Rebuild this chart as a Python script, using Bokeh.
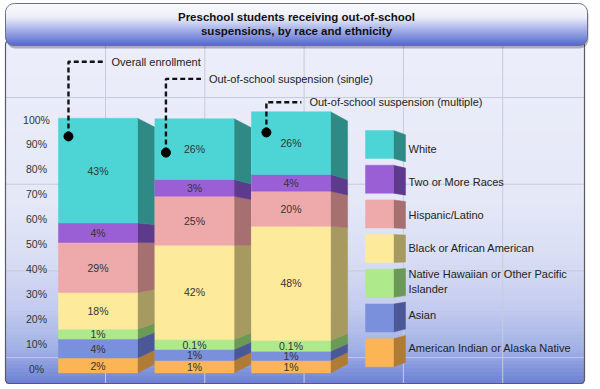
import math
from bokeh.plotting import figure
from bokeh.models import Range1d
from bokeh.core.properties import value
from bokeh.embed import file_html
from bokeh.resources import INLINE

# ---------------- data ----------------
groups = ["Overall enrollment",
          "Out-of-school suspension (single)",
          "Out-of-school suspension (multiple)"]
# stacking order, bottom to top
races = ["American Indian or Alaska Native", "Asian",
         "Native Hawaiian or Other Pacific Islander",
         "Black or African American", "Hispanic/Latino",
         "Two or More Races", "White"]
american_indian = [2, 1, 1]
asian = [4, 1, 1]
native_hawaiian = [1, 0.1, 0.1]
black = [18, 42, 48]
hispanic = [29, 25, 20]
two_or_more = [4, 3, 4]
white = [43, 26, 26]

# segment heights as drawn in the infographic (axis % units; not to scale)
drawn_american_indian = [6.0, 5.0, 5.0]
drawn_asian = [7.6, 4.4, 3.7]
drawn_native_hawaiian = [4.0, 4.0, 4.3]
drawn_black = [14.7, 37.9, 45.9]
drawn_hispanic = [20.1, 19.7, 14.1]
drawn_two_or_more = [7.8, 6.7, 6.7]
drawn_white = [42.1, 24.4, 25.2]

y_ticks = [0, 10, 20, 30, 40, 50, 60, 70, 80, 90, 100]
y_tick_labels = ["0%", "10%", "20%", "30%", "40%", "50%", "60%", "70%", "80%", "90%", "100%"]

title_lines = ["Preschool students receiving out-of-school",
               "suspensions, by race and ethnicity"]

shown = [american_indian, asian, native_hawaiian, black, hispanic, two_or_more, white]
drawn = [drawn_american_indian, drawn_asian, drawn_native_hawaiian, drawn_black,
         drawn_hispanic, drawn_two_or_more, drawn_white]

# ---------------- styles ----------------
front_colors = ["#fbb555", "#7a90dc", "#aee98c", "#fdeb9b", "#eeaaaa", "#9a5fd4", "#4dd5d5"]
side_colors = ["#b07c35", "#4a5898", "#6b9956", "#a69a60", "#a5706f", "#5e3a8c", "#2f8a86"]
FONT = value("Liberation Sans")

W, H = 600, 389
MARGIN = 0
PX_PER_X = 96.5
X0_PX = 97.5
PX_PER_PCT = 2.49
Y0_PX = 368.0


def X(px):
    return (px - X0_PX) / PX_PER_X


def Y(py):
    return (Y0_PX - py) / PX_PER_PCT


def interp(stops, y):
    if y <= stops[0][0]:
        c = stops[0][1]
    elif y >= stops[-1][0]:
        c = stops[-1][1]
    else:
        for (ya, ca), (yb, cb) in zip(stops[:-1], stops[1:]):
            if ya <= y <= yb:
                t = (y - ya) / (yb - ya)
                c = tuple(ca[k] + (cb[k] - ca[k]) * t for k in range(3))
                break
    return "#%02x%02x%02x" % tuple(int(round(v)) for v in c)


p = figure(width=W, height=H,
           x_range=Range1d(X(MARGIN), X(MARGIN + W)),
           y_range=Range1d(Y(MARGIN + H), Y(MARGIN)),
           x_axis_type=None, y_axis_type=None,
           output_backend="svg", toolbar_location=None,
           min_border=0, outline_line_color=None,
           background_fill_color="white", border_fill_color="white")
p.grid.visible = False


def rounded_path(x0, x1, y0, y1, r, n=8):
    pts = []
    corners = [(x1 - r, y0 + r, -90, 0), (x1 - r, y1 - r, 0, 90),
               (x0 + r, y1 - r, 90, 180), (x0 + r, y0 + r, 180, 270)]
    for cx, cy, a0, a1 in corners:
        for i in range(n + 1):
            a = math.radians(a0 + (a1 - a0) * i / n)
            pts.append((cx + r * math.cos(a), cy + r * math.sin(a)))
    return [X(a) for a, _ in pts], [Y(b) for _, b in pts]


def gradient(x0, x1, y0, y1, stops, n, r=0):
    L, R, T, B, C = [], [], [], [], []
    h = (y1 - y0) / n
    for i in range(n):
        top = y0 + i * h
        bot = min(top + h + 0.7, y1)
        mid = top + h / 2
        inset = 0
        if r > 0:
            d = None
            if mid < y0 + r:
                d = y0 + r - mid
            elif mid > y1 - r:
                d = mid - (y1 - r)
            if d is not None:
                inset = r - math.sqrt(max(r * r - d * d, 0))
        L.append(X(x0 + inset)); R.append(X(x1 - inset))
        T.append(Y(top)); B.append(Y(bot))
        C.append(interp(stops, mid))
    p.quad(left=L, right=R, top=T, bottom=B, fill_color=C, line_color=None)


# ---- panel background ----
panel = (5, 584, 40, 383)
gradient(*panel, stops=[(40, (236, 238, 250)), (200, (229, 232, 247)),
                        (260, (216, 221, 244)), (310, (194, 202, 238)),
                        (350, (160, 176, 229)), (383, (108, 128, 212))], n=90, r=4)
# grid lines
gx = [105 + k * 99.3 for k in range(5)]
gy = [97 + k * 86.7 for k in range(4)]
p.segment(x0=[X(v) for v in gx], y0=[Y(panel[2])] * len(gx),
          x1=[X(v) for v in gx], y1=[Y(panel[3])] * len(gx),
          line_color="#c9cadb", line_width=1)
p.segment(x0=[X(panel[0])] * len(gy), y0=[Y(v) for v in gy],
          x1=[X(panel[1])] * len(gy), y1=[Y(v) for v in gy],
          line_color="#c9cadb", line_width=1)
xs, ys = rounded_path(*panel, r=4)
p.patch(xs, ys, fill_color=None, line_color="#5a5a66", line_width=1.2)

# ---- title banner ----
banner = (5, 587, 3, 45)
xs, ys = rounded_path(banner[0] + 1, banner[1] + 1, banner[2] + 3, banner[3] + 3, r=9)
p.patch(xs, ys, fill_color="#30304a", fill_alpha=0.35, line_color=None)
gradient(*banner, stops=[(3, (250, 250, 253)), (17, (236, 238, 249)),
                         (28, (172, 182, 233)), (45, (84, 104, 206))], n=42, r=9)
xs, ys = rounded_path(*banner, r=9)
p.patch(xs, ys, fill_color=None, line_color="#6c6f86", line_width=1)
p.text(x=[X(296)] * 2, y=[Y(16), Y(30.5)], text=title_lines,
       text_font=FONT, text_font_style="bold", text_font_size="11.5px",
       text_color="#111111", text_align="center", text_baseline="middle")

# ---- y tick labels ----
p.text(x=[X(36)] * len(y_ticks), y=y_ticks, text=y_tick_labels,
       text_font=FONT, text_font_size="10.5px", text_color="#333333",
       text_align="center", text_baseline="middle")

# ---- 3D stacked bars ----
BAR_HALF = 0.41
DX = 17 / PX_PER_X
BASE = -1.8
K = 0.93


def persp(y, c=50.0, k=K):
    return c + (y - c) * k


fl, fr, ft, fb, fc = [], [], [], [], []
sxs, sys_, sc = [], [], []
lx, ly, lt = [], [], []
tops = []
for b in range(len(groups)):
    cum = BASE
    for s in range(len(races)):
        bot = cum
        top = cum + drawn[s][b]
        cum = top
        fl.append(b - BAR_HALF); fr.append(b + BAR_HALF)
        fb.append(bot); ft.append(top); fc.append(front_colors[s])
        xr = b + BAR_HALF
        sxs.append([xr, xr + DX, xr + DX, xr])
        sys_.append([bot, persp(bot), persp(top), top])
        sc.append(side_colors[s])
        lx.append(b); ly.append((bot + top) / 2)
        lt.append(f"{shown[s][b]:g}%")
    tops.append(cum)

p.patches(sxs, sys_, fill_color=sc, line_color=sc, line_width=0.5)
p.quad(left=fl, right=fr, top=ft, bottom=fb, fill_color=fc, line_color=fc, line_width=0.5)
p.text(x=lx, y=ly, text=lt, text_font=FONT, text_font_size="10.5px",
       text_color="#333333", text_align="center", text_baseline="middle")

# ---- callouts ----
DOT_DX = [0.104, 0.114, 0.155]      # from bar's left edge (x units)
DOT_DROP = [7.3, 13.6, 8.3]         # below bar top (axis units)
LABEL_RISE = [22.7, 16.0, 3.8]      # above bar top (axis units)
LEAD = 35 / PX_PER_X
GAP = 8 / PX_PER_X
for b in range(len(groups)):
    dx = b - BAR_HALF + DOT_DX[b]
    dy = tops[b] - DOT_DROP[b]
    ty = tops[b] + LABEL_RISE[b]
    p.line([dx, dx, dx + LEAD], [dy, ty, ty], line_color="#111111",
           line_width=2.4, line_dash="5 3")
    p.scatter([dx], [dy], size=9, color="#000000")
    p.text(x=[dx + LEAD + GAP], y=[ty], text=[groups[b]], text_font=FONT,
           text_font_size="11px", text_color="#222222",
           text_align="left", text_baseline="middle")

# ---- legend (top to bottom: reversed stacking order) ----
leg_order = list(range(len(races)))[::-1]
LEG_CY = Y(248)
bl, br, bt, bb, bc = [], [], [], [], []
lsx, lsy, lsc = [], [], []
tx, ty_, tt = [], [], []
for i, s in enumerate(leg_order):
    top_px = 130 + i * 34.7
    t, bo = Y(top_px), Y(top_px + 28)
    bl.append(X(365)); br.append(X(393)); bt.append(t); bb.append(bo)
    bc.append(front_colors[s])
    lsx.append([X(393), X(405), X(405), X(393)])
    lsy.append([bo, persp(bo, LEG_CY, 0.965), persp(t, LEG_CY, 0.965), t])
    lsc.append(side_colors[s])
    tx.append(X(408)); ty_.append(Y(148 + i * 33.2))
    tt.append(races[s].replace("Other Pacific Islander", "Other Pacific\nIslander"))
p.patches(lsx, lsy, fill_color=lsc, line_color=lsc, line_width=0.5)
p.quad(left=bl, right=br, top=bt, bottom=bb, fill_color=bc, line_color=bc, line_width=0.5)
p.text(x=tx, y=ty_, text=tt, text_font=FONT, text_font_size="11px",
       text_color="#222222", text_align="left", text_baseline="middle",
       text_line_height=1.25)

open("out.html", "w").write(file_html(p, INLINE))
